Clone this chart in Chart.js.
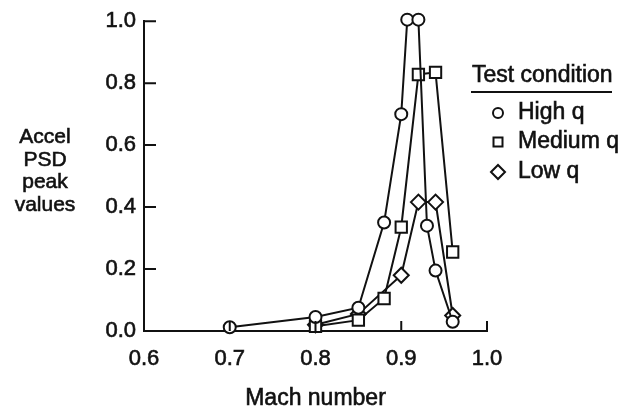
<!DOCTYPE html>
<html>
<head>
<meta charset="utf-8">
<script src="https://cdn.jsdelivr.net/npm/chart.js@4"></script>
<style>
  body { margin: 0; background: #fff; }
  #wrap { width: 625px; height: 411px; }
</style>
</head>
<body>
<div id="wrap"><canvas id="chart" width="625" height="411"></canvas></div>
<script>
// values
const highMach = [0.70, 0.80, 0.85, 0.88, 0.90, 0.907, 0.92, 0.93, 0.94, 0.96];
const highVals = [0.012, 0.045, 0.075, 0.35, 0.70, 1.005, 1.005, 0.34, 0.195, 0.03];
const medMach = [0.80, 0.85, 0.88, 0.90, 0.92, 0.94, 0.96];
const medVals = [0.015, 0.035, 0.105, 0.335, 0.828, 0.835, 0.255];
const lowMach = [0.80, 0.85, 0.90, 0.92, 0.94, 0.96];
const lowVals = [0.02, 0.055, 0.18, 0.416, 0.416, 0.05];
const xTicks = [0.6, 0.7, 0.8, 0.9, 1.0];
const yTicks = [0.0, 0.2, 0.4, 0.6, 0.8, 1.0];
const seriesNames = ["High q", "Medium q", "Low q"];
const yTitle = ["Accel", "PSD", "peak", "values"];
const xTitle = "Mach number";

const FONT = "'Liberation Sans', Arial, sans-serif";
const INK = "#111";

function pts(xs, ys) {
  return xs.map((x, i) => ({ x: x, y: ys[i] }));
}

function ds(label, data, style, r) {
  return {
    label: label,
    data: data,
    showLine: true,
    clip: false,
    borderColor: INK,
    borderWidth: 2,
    backgroundColor: "#fff",
    pointStyle: style,
    pointRadius: r,
    pointHoverRadius: r,
    pointBorderWidth: 2,
    pointBorderColor: INK,
    pointBackgroundColor: "#fff"
  };
}

// text with a thin outline so it reads as heavy as the scan
function heavyText(ctx, t, x, y) {
  ctx.fillText(t, x, y);
  ctx.strokeText(t, x, y);
}

// inward tick marks, axis titles and the legend box
const extras = {
  id: "extras",
  afterDraw(c) {
    const ctx = c.ctx;
    const xs = c.scales.x, ys = c.scales.y;
    const a = c.chartArea;
    ctx.save();
    ctx.strokeStyle = INK;
    ctx.lineWidth = 2;
    ctx.beginPath();
    yTicks.forEach(v => {
      const py = ys.getPixelForValue(v);
      ctx.moveTo(a.left, py);
      ctx.lineTo(a.left + 12, py);
    });
    xTicks.forEach(v => {
      const px = xs.getPixelForValue(v);
      ctx.moveTo(px, a.bottom);
      ctx.lineTo(px, a.bottom - 10);
    });
    ctx.stroke();

    ctx.fillStyle = INK;
    ctx.lineWidth = 0.6;
    ctx.font = "21px " + FONT;
    ctx.textAlign = "center";
    ctx.textBaseline = "alphabetic";
    yTitle.forEach((t, i) => heavyText(ctx, t, 45, 143 + i * 22.7));

    ctx.font = "23px " + FONT;
    ctx.textBaseline = "middle";
    heavyText(ctx, xTitle, (a.left + a.right) / 2, 399);

    // legend
    ctx.textAlign = "left";
    heavyText(ctx, "Test condition", 472, 76);
    ctx.lineWidth = 2;
    ctx.beginPath();
    ctx.moveTo(471, 92);
    ctx.lineTo(612, 92);
    ctx.stroke();

    const rows = [113, 142, 172];
    rows.forEach((y, i) => {
      const x = 498;
      ctx.lineWidth = 2;
      ctx.beginPath();
      if (i === 0) {
        ctx.arc(x, y, 5, 0, Math.PI * 2);
      } else if (i === 1) {
        ctx.rect(x - 4.5, y - 4.5, 9, 9);
      } else {
        ctx.moveTo(x - 7, y);
        ctx.lineTo(x, y - 7);
        ctx.lineTo(x + 7, y);
        ctx.lineTo(x, y + 7);
        ctx.closePath();
      }
      ctx.stroke();
      ctx.lineWidth = 0.6;
      heavyText(ctx, seriesNames[i], 518, y);
    });
    ctx.restore();
  }
};

const tickFont = { family: FONT, size: 22 };

new Chart(document.getElementById("chart"), {
  type: "scatter",
  data: {
    datasets: [
      ds(seriesNames[0], pts(highMach, highVals), "circle", 6),
      ds(seriesNames[1], pts(medMach, medVals), "rect", 8),
      ds(seriesNames[2], pts(lowMach, lowVals), "rectRot", 7.5)
    ]
  },
  options: {
    responsive: false,
    animation: false,
    layout: { padding: { left: 0, right: 138, top: 21, bottom: 0 } },
    plugins: { legend: { display: false }, tooltip: { enabled: false } },
    scales: {
      x: {
        type: "linear",
        min: 0.6,
        max: 1.0,
        afterFit(s) { s.height = 80; },
        afterBuildTicks(s) { s.ticks = xTicks.map(v => ({ value: v })); },
        grid: { display: false, drawTicks: false },
        border: { display: true, color: INK, width: 2 },
        ticks: {
          padding: 15,
          color: INK,
          textStrokeColor: INK,
          textStrokeWidth: 0.6,
          font: tickFont,
          callback: v => v.toFixed(1)
        }
      },
      y: {
        type: "linear",
        min: 0,
        max: 1.0,
        afterFit(s) { s.width = 144; },
        afterBuildTicks(s) { s.ticks = yTicks.map(v => ({ value: v })); },
        grid: { display: false, drawTicks: false },
        border: { display: true, color: INK, width: 2 },
        ticks: {
          padding: 8,
          color: INK,
          textStrokeColor: INK,
          textStrokeWidth: 0.6,
          font: tickFont,
          callback: v => v.toFixed(1)
        }
      }
    }
  },
  plugins: [extras]
});
</script>
</body>
</html>
